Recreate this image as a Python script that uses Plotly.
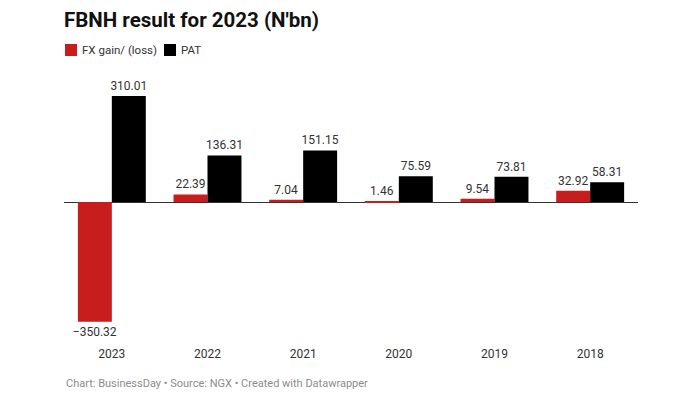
import plotly.graph_objects as go

years = ["2023", "2022", "2021", "2020", "2019", "2018"]
fx_gain = [-350.32, 22.39, 7.04, 1.46, 9.54, 32.92]
pat = [310.01, 136.31, 151.15, 75.59, 73.81, 58.31]
series_names = ["FX gain/ (loss)", "PAT"]
series_colors = ["#c71e1d", "#000000"]

def fmt(v):
    s = f"{abs(v):.2f}"
    return ("\u2212" + s) if v < 0 else s

W, H = 700, 400
OFF = 8  # page body margin offset
L, R, T, B = 64 - OFF, 700 - 638 + OFF, 80 - OFF, 400 - 345 + OFF
pw, ph = W - L - R, H - T - B

def px_x(x):
    return (x - OFF - L) / pw

def px_y(y):
    return (H - B - (y - OFF)) / ph

fig = go.Figure()
for vals, name, col in zip([fx_gain, pat], series_names, series_colors):
    fig.add_trace(go.Bar(
        x=years, y=vals, name=name,
        marker=dict(color=col, line=dict(width=0)),
        text=[fmt(v) for v in vals], textposition="outside",
        textfont=dict(size=12, color="#333333", family="Roboto"),
        constraintext="none", cliponaxis=False,
    ))

fig.update_layout(
    width=W, height=H,
    margin=dict(l=L, r=R, t=T, b=B, autoexpand=False),
    paper_bgcolor="white", plot_bgcolor="white",
    font=dict(family="Roboto", color="#333333", size=12),
    barmode="group", bargap=0.29, bargroupgap=0,
    showlegend=False,
    title=dict(text="<b>FBNH result for 2023 (N'bn)</b>", x=(64 - OFF) / W, xanchor="left",
               y=1 - (20 - OFF) / H, yanchor="middle",
               font=dict(size=20.5, color="#111111", family="Roboto")),
)
fig.update_xaxes(showgrid=False, showline=False, ticks="", tickfont=dict(size=12, color="#333333"))
fig.update_yaxes(range=[-418, 357], showgrid=False, showticklabels=False, zeroline=True,
                 zerolinecolor="#333333", zerolinewidth=1)

# legend drawn manually
leg_x = [65, 164]
for x0, name, col in zip(leg_x, series_names, series_colors):
    fig.add_shape(type="rect", xref="paper", yref="paper",
                  x0=px_x(x0), x1=px_x(x0 + 12), y0=px_y(56), y1=px_y(44),
                  fillcolor=col, line=dict(width=0))
    fig.add_annotation(text=name, xref="paper", yref="paper", x=px_x(x0 + 15), y=px_y(50),
                       xanchor="left", yanchor="middle", showarrow=False,
                       font=dict(size=11.5, color="#333333"))

fig.add_annotation(text="Chart: BusinessDay \u2022 Source: NGX \u2022 Created with Datawrapper",
                   xref="paper", yref="paper", x=px_x(64), y=px_y(383), xanchor="left", yanchor="middle",
                   showarrow=False, font=dict(size=11, color="#8c8c8c"))
fig.write_html("out.html")
